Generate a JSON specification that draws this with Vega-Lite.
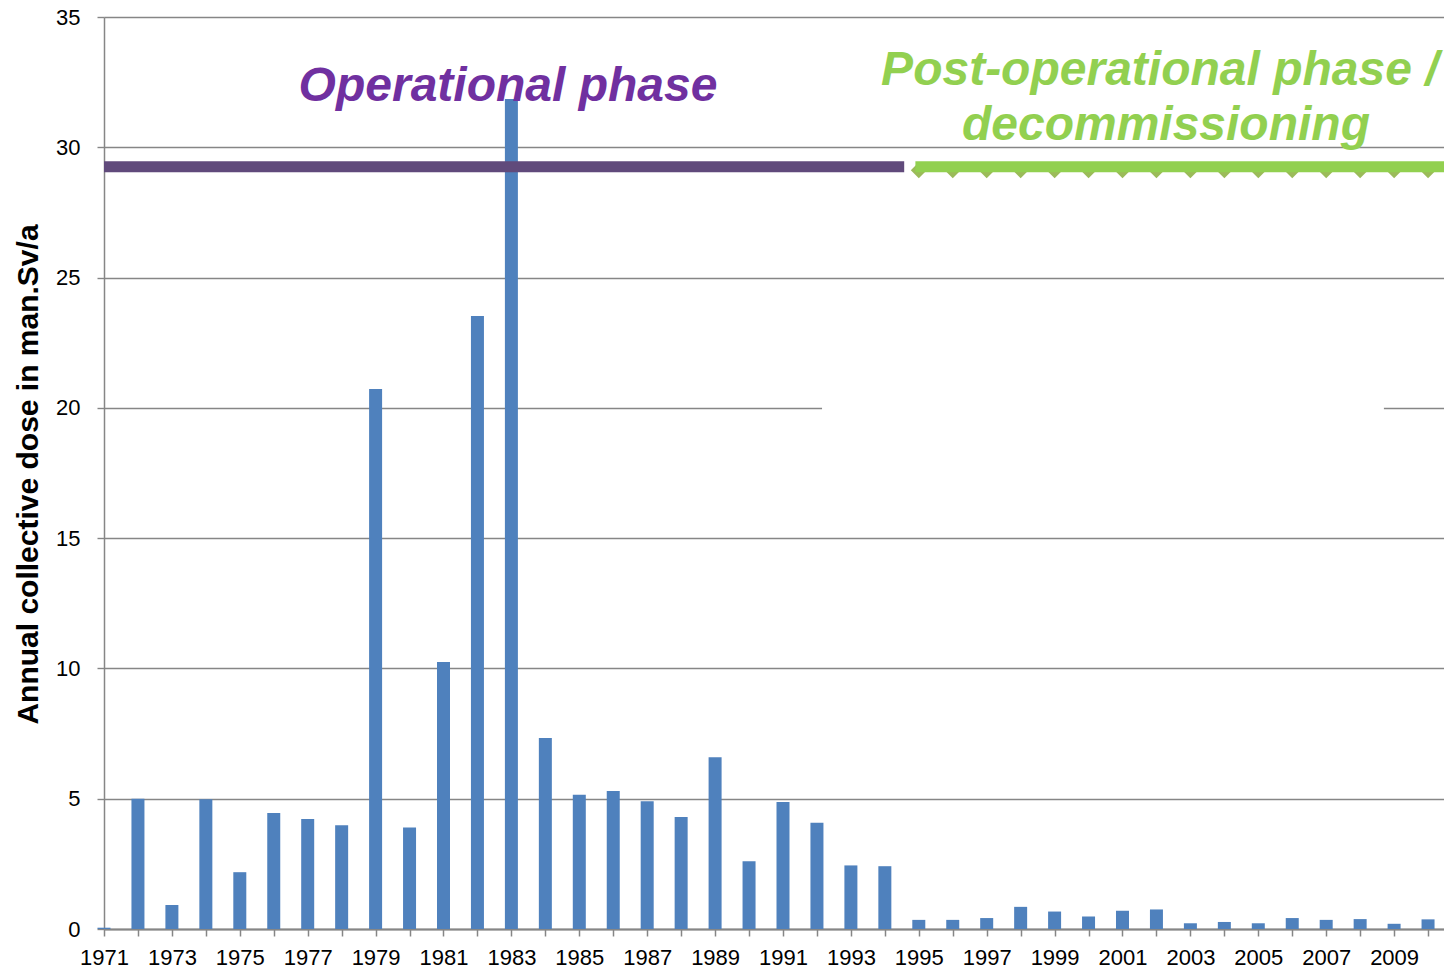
{
  "$schema": "https://vega.github.io/schema/vega-lite/v6.json",
  "width": 1340,
  "height": 912,
  "autosize": {"type": "none"},
  "padding": {"left": 104, "top": 17, "right": 0, "bottom": 41},
  "background": "white",
  "config": {
    "view": {"stroke": null},
    "axis": {
      "labelFont": "Liberation Sans",
      "labelFontSize": 22,
      "labelColor": "#000000",
      "titleFont": "Liberation Sans",
      "titleColor": "#000000",
      "domainColor": "#868686",
      "tickColor": "#868686",
      "gridColor": "#868686"
    }
  },
  "datasets": {
    "dose": [
      {"year": 1971, "dose": 0.05},
      {"year": 1972, "dose": 5.0},
      {"year": 1973, "dose": 0.92},
      {"year": 1974, "dose": 4.98},
      {"year": 1975, "dose": 2.18},
      {"year": 1976, "dose": 4.45},
      {"year": 1977, "dose": 4.22},
      {"year": 1978, "dose": 3.98},
      {"year": 1979, "dose": 20.72},
      {"year": 1980, "dose": 3.9},
      {"year": 1981, "dose": 10.25},
      {"year": 1982, "dose": 23.53},
      {"year": 1983, "dose": 31.85},
      {"year": 1984, "dose": 7.33},
      {"year": 1985, "dose": 5.15},
      {"year": 1986, "dose": 5.3},
      {"year": 1987, "dose": 4.9},
      {"year": 1988, "dose": 4.3},
      {"year": 1989, "dose": 6.59},
      {"year": 1990, "dose": 2.6},
      {"year": 1991, "dose": 4.87},
      {"year": 1992, "dose": 4.08},
      {"year": 1993, "dose": 2.44},
      {"year": 1994, "dose": 2.41},
      {"year": 1995, "dose": 0.35},
      {"year": 1996, "dose": 0.35},
      {"year": 1997, "dose": 0.42},
      {"year": 1998, "dose": 0.85},
      {"year": 1999, "dose": 0.67},
      {"year": 2000, "dose": 0.48},
      {"year": 2001, "dose": 0.7},
      {"year": 2002, "dose": 0.75},
      {"year": 2003, "dose": 0.22},
      {"year": 2004, "dose": 0.27},
      {"year": 2005, "dose": 0.22},
      {"year": 2006, "dose": 0.42},
      {"year": 2007, "dose": 0.35},
      {"year": 2008, "dose": 0.38},
      {"year": 2009, "dose": 0.2},
      {"year": 2010, "dose": 0.37}
    ],
    "gap": [{"year": 1992.15, "year2": 2008.7, "dose": 20}],
    "operational": [{"year": 1971, "year2": 1994.57, "dose": 29.25}],
    "post": [{"year": 1994.9, "year2": 2010.47, "dose": 29.25}],
    "markers": [
      {"year": 1995, "dose": 29.12}, {"year": 1996, "dose": 29.12}, {"year": 1997, "dose": 29.12},
      {"year": 1998, "dose": 29.12}, {"year": 1999, "dose": 29.12}, {"year": 2000, "dose": 29.12},
      {"year": 2001, "dose": 29.12}, {"year": 2002, "dose": 29.12}, {"year": 2003, "dose": 29.12},
      {"year": 2004, "dose": 29.12}, {"year": 2005, "dose": 29.12}, {"year": 2006, "dose": 29.12},
      {"year": 2007, "dose": 29.12}, {"year": 2008, "dose": 29.12}, {"year": 2009, "dose": 29.12},
      {"year": 2010, "dose": 29.12}
    ],
    "opLabel": [{"year": 1982.9, "dose": 31.76, "label": "Operational phase"}],
    "postLabel": [
      {"year": 2002.1, "dose": 32.38, "label": "Post-operational phase /"},
      {"year": 2002.28, "dose": 30.27, "label": "decommissioning"}
    ]
  },
  "encoding": {
    "x": {
      "field": "year",
      "type": "quantitative",
      "scale": {"domain": [1971, 2010.47], "nice": false, "zero": false, "padding": 0},
      "axis": {
        "title": null,
        "values": [1971,1972,1973,1974,1975,1976,1977,1978,1979,1980,1981,1982,1983,1984,1985,1986,1987,1988,1989,1990,1991,1992,1993,1994,1995,1996,1997,1998,1999,2000,2001,2002,2003,2004,2005,2006,2007,2008,2009,2010],
        "labelExpr": "datum.value % 2 == 1 ? format(datum.value, 'd') : ''",
        "labelOverlap": false,
        "labelFlush": false,
        "grid": false,
        "domainWidth": 2,
        "tickSize": 7,
        "tickWidth": 1.5,
        "labelPadding": 11,
        "labelBaseline": "top"
      }
    },
    "y": {
      "field": "dose",
      "type": "quantitative",
      "scale": {"domain": [0, 35], "nice": false},
      "axis": {
        "title": "Annual collective dose in man.Sv/a",
        "titleFontSize": 30,
        "titleFontWeight": "bold",
        "titleX": -76,
        "titleY": 457,
        "titleAngle": 270,
        "titleAlign": "center",
        "titleBaseline": "middle",
        "values": [0, 5, 10, 15, 20, 25, 30, 35],
        "grid": true,
        "gridWidth": 1.4,
        "domainWidth": 1.5,
        "tickSize": 7,
        "tickWidth": 1.4,
        "labelPadding": 17,
        "format": "d"
      }
    }
  },
  "layer": [
    {
      "data": {"name": "dose"},
      "mark": {"type": "bar", "width": 13, "color": "#4F81BD"}
    },
    {
      "data": {"name": "gap"},
      "mark": {"type": "rule", "color": "white", "strokeWidth": 6},
      "encoding": {"x2": {"field": "year2"}}
    },
    {
      "data": {"name": "operational"},
      "mark": {"type": "rule", "color": "#604A7B", "strokeWidth": 11},
      "encoding": {"x2": {"field": "year2"}}
    },
    {
      "data": {"name": "markers"},
      "mark": {"type": "point", "shape": "diamond", "filled": true, "color": "#9BBB59", "opacity": 1, "size": 256}
    },
    {
      "data": {"name": "post"},
      "mark": {"type": "rule", "color": "#92D050", "strokeWidth": 11},
      "encoding": {"x2": {"field": "year2"}}
    },
    {
      "data": {"name": "opLabel"},
      "mark": {"type": "text", "font": "Liberation Sans", "fontSize": 48, "fontWeight": "bold", "fontStyle": "italic", "color": "#7030A0", "align": "center", "baseline": "alphabetic"},
      "encoding": {"text": {"field": "label"}}
    },
    {
      "data": {"name": "postLabel"},
      "mark": {"type": "text", "font": "Liberation Sans", "fontSize": 48, "fontWeight": "bold", "fontStyle": "italic", "color": "#92D050", "align": "center", "baseline": "alphabetic"},
      "encoding": {"text": {"field": "label"}}
    }
  ]
}
